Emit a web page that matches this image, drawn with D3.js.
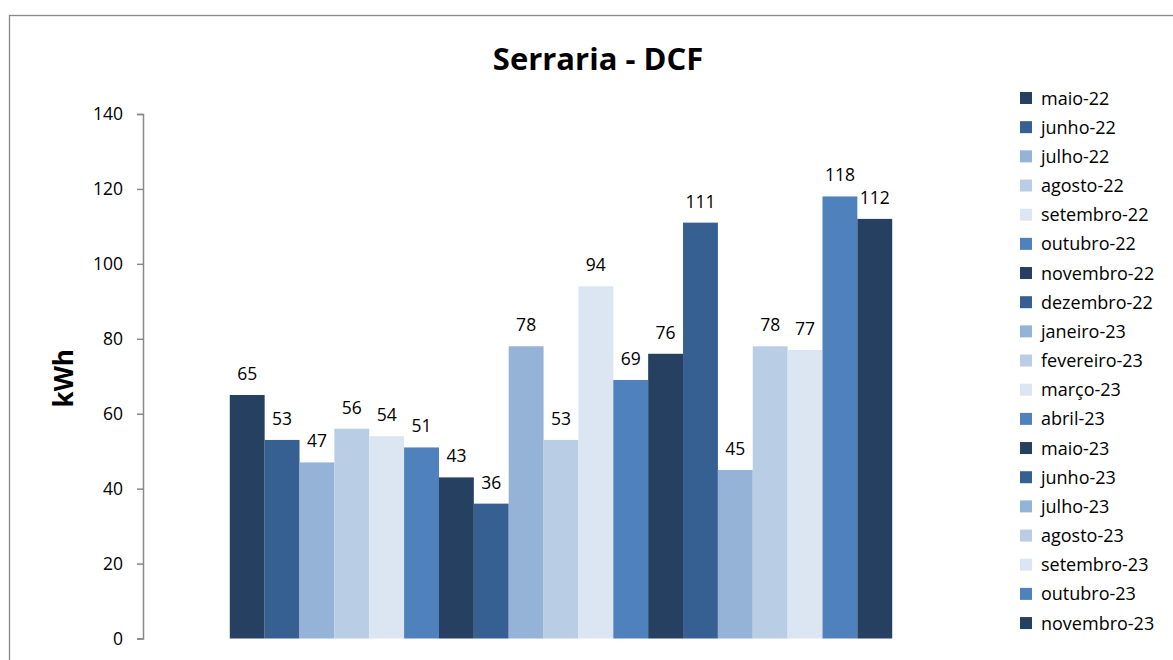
<!DOCTYPE html>
<html>
<head>
<meta charset="utf-8">
<script src="https://cdn.jsdelivr.net/npm/d3@7"></script>
<style>
  body { margin: 0; background: #fff; }
  svg { display: block; font-family: "Open Sans", "Noto Sans", sans-serif; }
</style>
</head>
<body>
<div id="chart"></div>
<script>
// chart data
var months = ["maio-22", "junho-22", "julho-22", "agosto-22", "setembro-22", "outubro-22",
   "novembro-22", "dezembro-22", "janeiro-23", "fevereiro-23", "março-23", "abril-23",
   "maio-23", "junho-23", "julho-23", "agosto-23", "setembro-23", "outubro-23", "novembro-23"];
var values = [65, 53, 47, 56, 54, 51, 43, 36, 78, 53, 94, 69, 76, 111, 45, 78, 77, 118, 112];
var yTicks = [0, 20, 40, 60, 80, 100, 120, 140];
var palette = ["#254061", "#376092", "#95B3D7", "#B9CDE5", "#DCE6F2", "#4F81BD"];

var width = 1173, height = 660,
   plot = {left: 143, right: 979, top: 114, bottom: 638.5};

var svg = d3.select("#chart").append("svg")
   .attr("width", width)
   .attr("height", height);

// chart frame
svg.append("rect")
   .attr("x", 9.5).attr("y", 15.5)
   .attr("width", 1200).attr("height", 700)
   .attr("fill", "none")
   .attr("stroke", "#888")
   .attr("stroke-width", 1.3);

svg.append("text")
   .attr("x", 598).attr("y", 70)
   .attr("text-anchor", "middle")
   .attr("font-size", 31)
   .attr("font-weight", "bold")
   .text("Serraria - DCF");

var y = d3.scaleLinear().domain([0, 140]).range([plot.bottom, plot.top]);

// one category, the months are series inside it
var x0 = d3.scaleBand().domain(["Serraria"]).range([plot.left, plot.right]).paddingOuter(0.131);
var x1 = d3.scaleBand().domain(months).range([0, x0.bandwidth()]);
var color = d3.scaleOrdinal().domain(months).range(palette);

var yAxis = svg.append("g")
   .attr("transform", "translate(" + plot.left + ",0)")
   .call(d3.axisLeft(y).tickValues(yTicks).tickSize(6).tickPadding(14));
yAxis.select(".domain").attr("stroke", "#888").attr("stroke-width", 1.5);
yAxis.selectAll(".tick line").attr("stroke", "#888").attr("stroke-width", 1.5);
yAxis.selectAll(".tick text")
   .attr("font-size", 17.5)
   .attr("fill", "#000")
   .attr("font-family", "'Open Sans', 'Noto Sans', sans-serif");

svg.append("text")
   .attr("transform", "translate(73," + ((plot.top + plot.bottom) / 2 + 2) + ") rotate(-90)")
   .attr("text-anchor", "middle")
   .attr("font-size", 26)
   .attr("font-weight", "bold")
   .text("kWh");

var group = svg.append("g")
   .attr("transform", "translate(" + x0("Serraria") + ",0)");

group.selectAll("rect")
   .data(values)
   .enter().append("rect")
   .attr("x", function (d, i) { return x1(months[i]); })
   .attr("y", function (d) { return y(d); })
   .attr("width", x1.bandwidth())
   .attr("height", function (d) { return y(0) - y(d); })
   .attr("fill", function (d, i) { return color(months[i]); });

group.selectAll("text.val")
   .data(values)
   .enter().append("text")
   .attr("class", "val")
   .attr("x", function (d, i) { return x1(months[i]) + x1.bandwidth() / 2; })
   .attr("y", function (d) { return y(d) - 15; })
   .attr("text-anchor", "middle")
   .attr("font-size", 17.5)
   .text(function (d) { return d; });

// legend
var legend = svg.append("g").attr("transform", "translate(1020,98)");
var rows = legend.selectAll("g")
   .data(months)
   .enter().append("g")
   .attr("transform", function (d, i) { return "translate(0," + (i * 29.17) + ")"; });
rows.append("rect")
   .attr("x", 0).attr("y", -6)
   .attr("width", 12).attr("height", 12)
   .attr("fill", function (d) { return color(d); });
rows.append("text")
   .attr("x", 21).attr("y", 6.5)
   .attr("font-size", 18)
   .text(function (d) { return d; });
</script>
</body>
</html>
